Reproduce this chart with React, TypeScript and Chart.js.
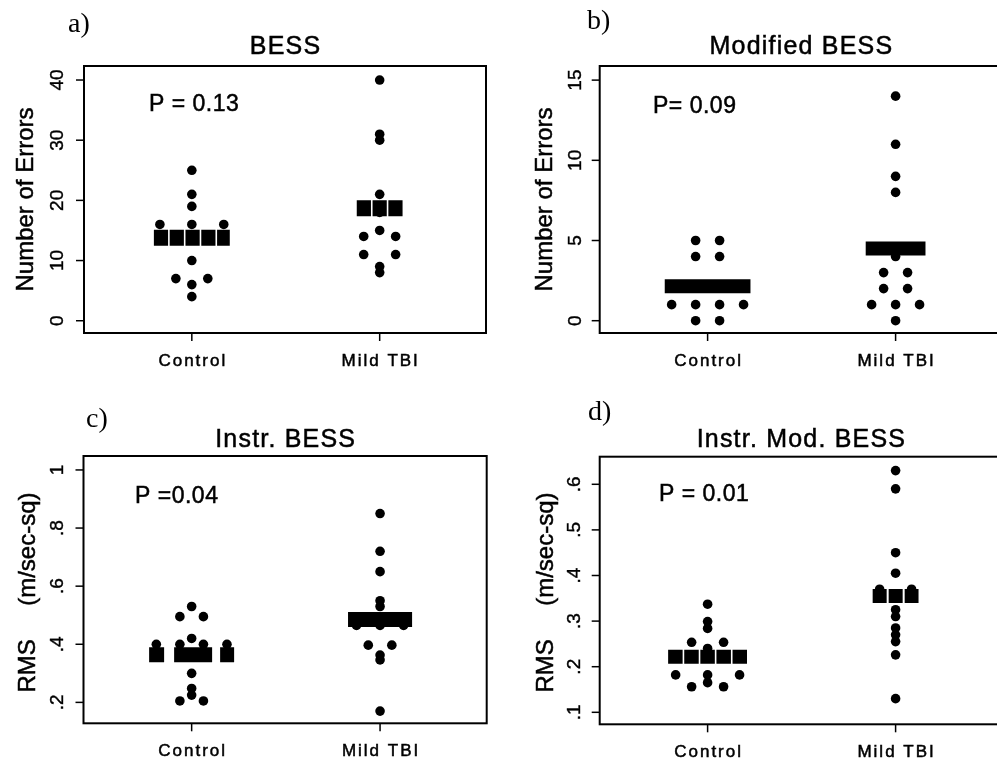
import React, { useEffect, useRef } from 'react';
import { Chart, registerables } from 'chart.js';

Chart.register(...registerables);

// ---------- data ----------
const categories = ['Control', 'Mild TBI'];

// a) BESS – number of errors
const bessControl = [25, 21, 19, 16, 16, 16, 10, 7, 7, 6, 4];
const bessMild = [40, 31, 30, 21, 18, 15, 14, 14, 11, 11, 9, 8];
const bessMeans = [13.8, 18.7];
const bessTicks = [0, 10, 20, 30, 40];
const bessTickLabels = ['0', '10', '20', '30', '40'];

// b) Modified BESS – number of errors
const modControl = [5, 5, 4, 4, 1, 1, 1, 1, 0, 0];
const modMild = [14, 11, 9, 8, 4, 3, 3, 2, 2, 1, 1, 1, 0];
const modMeans = [2.14, 4.5];
const modTicks = [0, 5, 10, 15];
const modTickLabels = ['0', '5', '10', '15'];

// c) Instr. BESS – RMS (m/sec-sq)
const instrControl = [0.53, 0.495, 0.495, 0.42, 0.4, 0.4, 0.4, 0.4, 0.3, 0.248, 0.225, 0.205, 0.205];
const instrMild = [0.85, 0.72, 0.65, 0.55, 0.53, 0.465, 0.465, 0.465, 0.397, 0.397, 0.363, 0.346, 0.17];
const instrMeans = [0.364, 0.485];
const instrTicks = [0.2, 0.4, 0.6, 0.8, 1];
const instrTickLabels = ['.2', '.4', '.6', '.8', '1'];

// d) Instr. Mod. BESS – RMS (m/sec-sq)
const instrModControl = [0.337, 0.299, 0.284, 0.2535, 0.2535, 0.24, 0.22, 0.182, 0.182, 0.182, 0.165, 0.156, 0.156];
const instrModMild = [0.63, 0.59, 0.45, 0.405, 0.37, 0.37, 0.35, 0.35, 0.325, 0.31, 0.285, 0.27, 0.255, 0.226, 0.13];
const instrModMeans = [0.222, 0.355];
const instrModTicks = [0.1, 0.2, 0.3, 0.4, 0.5, 0.6];
const instrModTickLabels = ['.1', '.2', '.3', '.4', '.5', '.6'];

// ---------- layout / style ----------
const SANS = '"Liberation Sans", Arial, Helvetica, sans-serif';
const SERIF = '"Liberation Serif", "Times New Roman", serif';
const X_MIN = 0.426;
const X_MAX = 2.566;

type Panel = {
  letter: string;
  title: string;
  pText: string;
  yTitle: string;
  groups: number[][];
  means: number[];
  ticks: number[];
  tickLabels: string[];
  yMin: number;
  yMax: number;
  left: number;
  top: number;
  width: number;
  height: number;
  area: { l: number; t: number; r: number; b: number };
  step: number;
  barHalf: number[];
  barWidth: number;
  barDash: number[][];
  letterPos: [number, number];
  titleY: number;
  pPos: [number, number];
  yTitleX: number;
  yTitleY: number;
  tickLabelX: number;
};

const panels: Panel[] = [
  {
    letter: 'a)', title: 'BESS', pText: 'P = 0.13', yTitle: 'Number of Errors',
    groups: [bessControl, bessMild], means: bessMeans, ticks: bessTicks, tickLabels: bessTickLabels,
    yMin: -2.04, yMax: 42.33,
    left: 0, top: 0, width: 498, height: 383,
    area: { l: 84, t: 66, r: 486, b: 333 },
    step: 0.17, barHalf: [0.202, 0.122], barWidth: 16, barDash: [[14.2, 1.6], [14.2, 1.6]],
    letterPos: [68, 32], titleY: 54, pPos: [149, 110.5], yTitleX: 33, yTitleY: 199.5, tickLabelX: 63,
  },
  {
    letter: 'b)', title: 'Modified BESS', pText: 'P= 0.09', yTitle: 'Number of Errors',
    groups: [modControl, modMild], means: modMeans, ticks: modTicks, tickLabels: modTickLabels,
    yMin: -0.767, yMax: 15.88,
    left: 498, top: 0, width: 520, height: 383,
    area: { l: 101.7, t: 66, r: 504, b: 333 },
    step: 0.1275, barHalf: [0.228, 0.159], barWidth: 14, barDash: [[], []],
    letterPos: [89, 29], titleY: 54, pPos: [155, 112.5], yTitleX: 54, yTitleY: 199.5, tickLabelX: 83,
  },
  {
    letter: 'c)', title: 'Instr. BESS', pText: 'P =0.04', yTitle: 'RMS     (m/sec-sq)',
    groups: [instrControl, instrMild], means: instrMeans, ticks: instrTicks, tickLabels: instrTickLabels,
    yMin: 0.128, yMax: 1.048,
    left: 0, top: 383, width: 498, height: 383,
    area: { l: 83.5, t: 73, r: 486.7, b: 340.3 },
    step: 0.125, barHalf: [0.2257, 0.17], barWidth: 15, barDash: [[15, 10, 38, 8, 14, 30], []],
    letterPos: [86, 44], titleY: 64, pPos: [135, 120.3], yTitleX: 35, yTitleY: 209.5, tickLabelX: 63,
  },
  {
    letter: 'd)', title: 'Instr. Mod. BESS', pText: 'P = 0.01', yTitle: 'RMS     (m/sec-sq)',
    groups: [instrModControl, instrModMild], means: instrModMeans, ticks: instrModTicks, tickLabels: instrModTickLabels,
    yMin: 0.0737, yMax: 0.6605,
    left: 498, top: 383, width: 520, height: 383,
    area: { l: 101.7, t: 73.7, r: 504, b: 341.3 },
    step: 0.17, barHalf: [0.21, 0.122], barWidth: 14, barDash: [[14.5, 1.6], [14, 2]],
    letterPos: [90, 37], titleY: 64, pPos: [161, 118], yTitleX: 55, yTitleY: 209.5, tickLabelX: 82,
  },
];

// symmetric stacking of equal values around the category position
function stackPoints(values: number[], center: number, step: number) {
  const counts = new Map<number, number>();
  values.forEach((v) => counts.set(v, (counts.get(v) || 0) + 1));
  const seen = new Map<number, number>();
  return values.map((v) => {
    const n = counts.get(v) as number;
    const k = seen.get(v) || 0;
    seen.set(v, k + 1);
    return { x: center + (k - (n - 1) / 2) * step, y: v };
  });
}

// text with a faint outline to mimic the heavier raster text of the original
function heavyText(ctx: CanvasRenderingContext2D, text: string, x: number, y: number, w = 0.55) {
  ctx.fillText(text, x, y);
  ctx.lineWidth = w;
  ctx.strokeText(text, x, y);
}

function makeConfig(p: Panel): any {
  const datasets: any[] = [];
  p.groups.forEach((vals, gi) => {
    const c = gi + 1;
    datasets.push({
      label: categories[gi] + ' mean',
      data: [
        { x: c - p.barHalf[gi], y: p.means[gi] },
        { x: c + p.barHalf[gi], y: p.means[gi] },
      ],
      showLine: true,
      borderColor: '#000',
      backgroundColor: '#000',
      borderWidth: p.barWidth,
      borderDash: p.barDash[gi],
      borderCapStyle: 'butt',
      pointRadius: 0,
      fill: false,
      order: 2,
    });
    datasets.push({
      label: categories[gi],
      data: stackPoints(vals, c, p.step),
      backgroundColor: '#000',
      borderColor: '#000',
      borderWidth: 0,
      pointRadius: 4.8,
      pointStyle: 'circle',
      order: 1,
    });
  });

  const framePlugin = {
    id: 'frame' + p.letter,
    afterDraw(chart: any) {
      const ctx = chart.ctx as CanvasRenderingContext2D;
      const { left, right, top, bottom } = chart.chartArea;
      const xs = chart.scales.x;
      const ys = chart.scales.y;
      ctx.save();
      ctx.fillStyle = '#000';
      ctx.strokeStyle = '#000';
      // box
      ctx.lineWidth = 2;
      ctx.strokeRect(left, top, right - left, bottom - top);
      // y ticks
      p.ticks.forEach((t, i) => {
        const y = ys.getPixelForValue(t);
        ctx.lineWidth = 1.5;
        ctx.beginPath();
        ctx.moveTo(left - 8, y);
        ctx.lineTo(left, y);
        ctx.stroke();
        ctx.save();
        ctx.translate(p.tickLabelX, y);
        ctx.rotate(-Math.PI / 2);
        ctx.font = '19px ' + SANS;
        ctx.textAlign = 'center';
        ctx.textBaseline = 'alphabetic';
        heavyText(ctx, p.tickLabels[i], 0, 0, 0.4);
        ctx.restore();
      });
      // x ticks
      categories.forEach((cat, i) => {
        const x = xs.getPixelForValue(i + 1);
        ctx.lineWidth = 1.5;
        ctx.beginPath();
        ctx.moveTo(x, bottom);
        ctx.lineTo(x, bottom + 8);
        ctx.stroke();
        ctx.font = '17px ' + SANS;
        (ctx as any).letterSpacing = '2px';
        ctx.textAlign = 'center';
        ctx.textBaseline = 'alphabetic';
        heavyText(ctx, cat, x + 1, bottom + 32.5, 0.5);
        (ctx as any).letterSpacing = '0px';
      });
      // y axis title
      ctx.save();
      ctx.translate(p.yTitleX, p.yTitleY);
      ctx.rotate(-Math.PI / 2);
      ctx.font = '24px ' + SANS;
      ctx.textAlign = 'center';
      ctx.textBaseline = 'alphabetic';
      heavyText(ctx, p.yTitle, 0, 0, 0.5);
      ctx.restore();
      // title
      ctx.font = '25px ' + SANS;
      (ctx as any).letterSpacing = '1.2px';
      ctx.textAlign = 'center';
      heavyText(ctx, p.title, (left + right) / 2 + 0.6, p.titleY, 0.5);
      // P value
      ctx.font = '23px ' + SANS;
      (ctx as any).letterSpacing = '0.5px';
      ctx.textAlign = 'left';
      heavyText(ctx, p.pText, p.pPos[0], p.pPos[1], 0.5);
      (ctx as any).letterSpacing = '0px';
      // panel letter
      ctx.font = '28px ' + SERIF;
      ctx.fillText(p.letter, p.letterPos[0], p.letterPos[1]);
      ctx.restore();
    },
  };

  return {
    type: 'scatter',
    data: { datasets },
    options: {
      animation: false,
      responsive: false,
      maintainAspectRatio: false,
      events: [],
      layout: {
        autoPadding: false,
        padding: { left: 0, top: p.area.t, right: p.width - p.area.r, bottom: 0 },
      },
      plugins: {
        legend: { display: false },
        tooltip: { enabled: false },
        title: { display: false },
      },
      scales: {
        x: {
          type: 'linear',
          min: X_MIN,
          max: X_MAX,
          grid: { display: false },
          border: { display: false },
          ticks: { display: false },
          afterFit: (scale: any) => {
            scale.height = p.height - p.area.b;
          },
        },
        y: {
          type: 'linear',
          min: p.yMin,
          max: p.yMax,
          grid: { display: false },
          border: { display: false },
          ticks: { display: false },
          afterFit: (scale: any) => {
            scale.width = p.area.l;
          },
        },
      },
    },
    plugins: [framePlugin],
  };
}

function PanelChart({ p }: { p: Panel }) {
  const ref = useRef<HTMLCanvasElement>(null);
  useEffect(() => {
    if (!ref.current) return;
    const chart = new Chart(ref.current, makeConfig(p));
    return () => chart.destroy();
  }, [p]);
  return (
    <canvas
      ref={ref}
      width={p.width}
      height={p.height}
      style={{ position: 'absolute', left: p.left, top: p.top, width: p.width, height: p.height }}
    />
  );
}

export default function App() {
  return (
    <div
      style={{
        position: 'fixed',
        left: 0,
        top: 0,
        width: 997,
        height: 766,
        overflow: 'hidden',
        background: '#fff',
      }}
    >
      {panels.map((p) => (
        <PanelChart key={p.letter} p={p} />
      ))}
    </div>
  );
}
